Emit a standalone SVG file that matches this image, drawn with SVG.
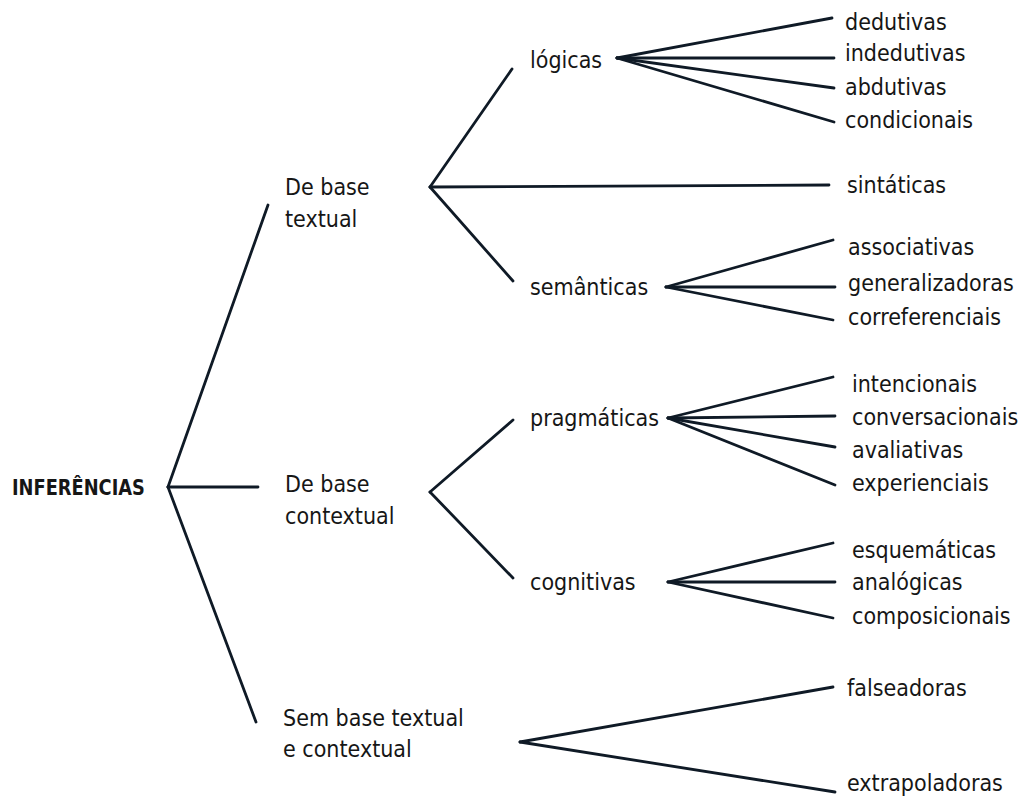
<svg xmlns="http://www.w3.org/2000/svg" width="1019" height="800" viewBox="0 0 1019 800">
<style>
text{font-family:"DejaVu Sans Condensed","Liberation Sans",sans-serif;font-size:23px;fill:#161616}
.root{font-weight:bold;font-size:22px}
.c line{stroke:#0f1a26;stroke-width:2.8;stroke-linecap:round}
</style>
<rect width="1019" height="800" fill="#ffffff"/>
<g class="c" id="connectors">
<line x1="168" y1="487" x2="268" y2="205"/>
<line x1="168" y1="487" x2="258" y2="487"/>
<line x1="168" y1="487" x2="256" y2="722"/>
<line x1="430" y1="187" x2="512" y2="69"/>
<line x1="430" y1="187" x2="829" y2="185"/>
<line x1="430" y1="187" x2="513" y2="281"/>
<line x1="430" y1="492" x2="513" y2="420"/>
<line x1="430" y1="492" x2="513" y2="578"/>
<line x1="617" y1="58" x2="832" y2="18"/>
<line x1="617" y1="58" x2="834" y2="58"/>
<line x1="617" y1="58" x2="834" y2="88"/>
<line x1="617" y1="58" x2="834" y2="122"/>
<line x1="666" y1="287" x2="833" y2="240"/>
<line x1="666" y1="287" x2="835" y2="287"/>
<line x1="666" y1="287" x2="833" y2="320"/>
<line x1="668" y1="418" x2="833" y2="377"/>
<line x1="668" y1="418" x2="835" y2="416"/>
<line x1="668" y1="418" x2="835" y2="447"/>
<line x1="668" y1="418" x2="835" y2="485"/>
<line x1="668" y1="582" x2="833" y2="543"/>
<line x1="668" y1="582" x2="835" y2="582"/>
<line x1="668" y1="582" x2="833" y2="618"/>
<line x1="520" y1="742" x2="833" y2="687"/>
<line x1="520" y1="742" x2="835" y2="792"/>
</g>
<g id="inferencias"><text class="root" transform="translate(12,495) scale(0.9,1)">INFERÊNCIAS</text></g>
<g id="base-textual"><text x="285" y="195">De base</text><text x="285" y="227">textual</text></g>
<g id="base-contextual"><text x="285" y="492">De base</text><text x="285" y="524">contextual</text></g>
<g id="sem-base"><text x="283" y="726">Sem base textual</text><text x="283" y="757">e contextual</text></g>
<g id="logicas"><text x="530" y="68">lógicas</text></g>
<g id="semanticas"><text x="530" y="295">semânticas</text></g>
<g id="pragmaticas"><text x="530" y="426">pragmáticas</text></g>
<g id="cognitivas"><text x="530" y="590">cognitivas</text></g>
<g id="dedutivas"><text x="845" y="30">dedutivas</text></g>
<g id="indedutivas"><text x="845" y="61">indedutivas</text></g>
<g id="abdutivas"><text x="845" y="95">abdutivas</text></g>
<g id="condicionais"><text x="845" y="128">condicionais</text></g>
<g id="sintaticas"><text x="847" y="193">sintáticas</text></g>
<g id="associativas"><text x="848" y="255">associativas</text></g>
<g id="generalizadoras"><text x="848" y="291">generalizadoras</text></g>
<g id="correferenciais"><text x="848" y="325">correferenciais</text></g>
<g id="intencionais"><text x="852" y="392">intencionais</text></g>
<g id="conversacionais"><text x="852" y="425">conversacionais</text></g>
<g id="avaliativas"><text x="852" y="458">avaliativas</text></g>
<g id="experienciais"><text x="852" y="491">experienciais</text></g>
<g id="esquematicas"><text x="852" y="558">esquemáticas</text></g>
<g id="analogicas"><text x="852" y="590">analógicas</text></g>
<g id="composicionais"><text x="852" y="624">composicionais</text></g>
<g id="falseadoras"><text x="847" y="696">falseadoras</text></g>
<g id="extrapoladoras"><text x="847" y="791">extrapoladoras</text></g>
</svg>
